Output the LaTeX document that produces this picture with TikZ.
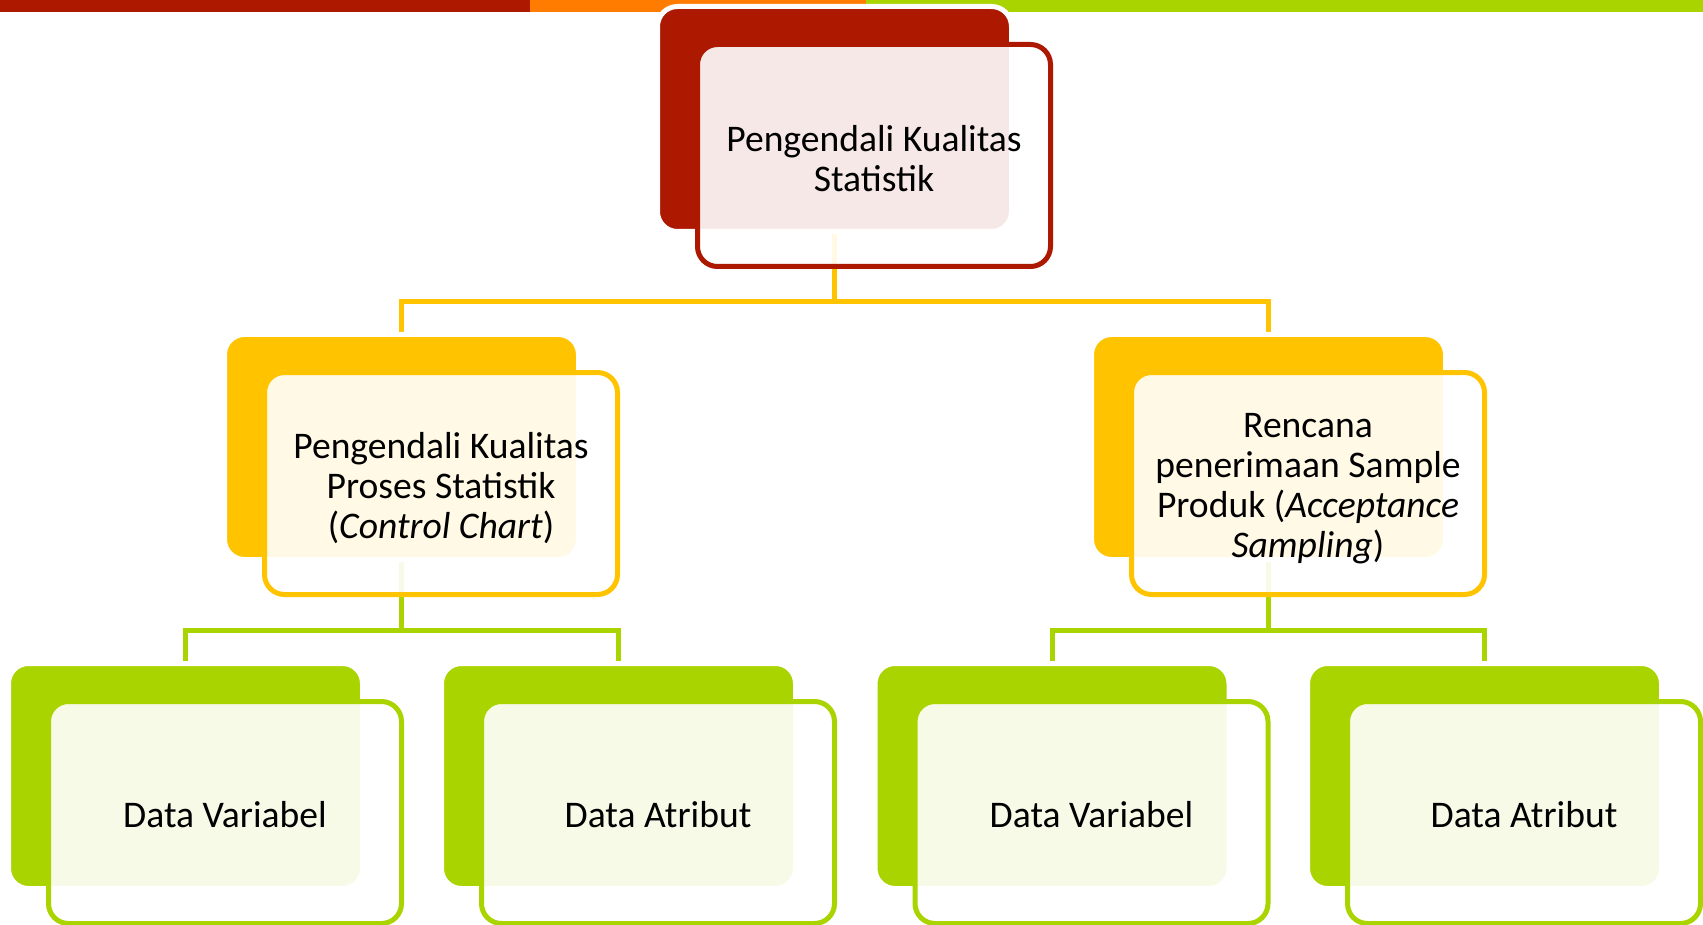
\documentclass[tikz,border=0pt]{standalone}
\usepackage{fontspec}
\setmainfont{Carlito}
\pgfdeclarelayer{bg}
\pgfsetlayers{bg,main}
\definecolor{darkred}{HTML}{AC1800}
\definecolor{barorange}{HTML}{FF7C00}
\definecolor{leafgreen}{HTML}{AAD400}
\definecolor{gold}{HTML}{FFC300}
\tikzset{
  backbox/.style={rectangle, rounded corners=10pt, minimum width=177pt,
    minimum height=112.5pt, draw=white, line width=2.5pt, fill=#1, inner sep=0pt},
  frontbox/.style={rectangle, rounded corners=10pt, minimum width=176.5pt,
    minimum height=111pt, draw=#1, line width=2.5pt, fill=white,
    fill opacity=0.9, inner sep=0pt},
  boxtext/.style={font=\fontsize{18.8pt}{20pt}\selectfont, align=center,
    text=black, inner sep=0pt, yshift=#1},
  boxtext/.default=-2.5pt,
  link/.style={line width=2.5pt, draw=#1},
  fshift/.style={shift={(39.5,36.5)}}
}
\begin{document}
\begin{tikzpicture}[x=0.5pt,y=-0.5pt]
\useasboundingbox (0,0) rectangle (1703,925);

% back panels
\node[backbox=darkred]   (topb) at (834.5,119) {};
\node[backbox=gold]      (mlb)  at (401.5,447) {};
\node[backbox=gold]      (mrb)  at (1268.5,447) {};
\node[backbox=leafgreen] (b1b)  at (185.5,776) {};
\node[backbox=leafgreen] (b2b)  at (618.5,776) {};
\node[backbox=leafgreen] (b3b)  at (1052,776) {};
\node[backbox=leafgreen] (b4b)  at (1484.5,776) {};

% translucent front panels
\node[frontbox=darkred]   (topf) at ([fshift]topb.center) {};
\node[frontbox=gold]      (mlf)  at ([fshift]mlb.center) {};
\node[frontbox=gold]      (mrf)  at ([fshift]mrb.center) {};
\node[frontbox=leafgreen] (b1f)  at ([fshift]b1b.center) {};
\node[frontbox=leafgreen] (b2f)  at ([fshift]b2b.center) {};
\node[frontbox=leafgreen] (b3f)  at ([fshift]b3b.center) {};
\node[frontbox=leafgreen] (b4f)  at ([fshift]b4b.center) {};

% labels
\node[boxtext=-1.5pt] (topt) at (topf.center) {Pengendali Kualitas\\Statistik};
\node[boxtext] (mlt)  at (mlf.center) {Pengendali Kualitas\\Proses Statistik\\(\textit{Control Chart})};
\node[boxtext] (mrt)  at (mrf.center) {Rencana\\penerimaan Sample\\Produk (\textit{Acceptance}\\\textit{Sampling})};
\node[boxtext=-1pt] (b1t)  at (b1f.center) {Data Variabel};
\node[boxtext=-1pt] (b2t)  at (b2f.center) {Data Atribut};
\node[boxtext=-1pt] (b3t)  at (b3f.center) {Data Variabel};
\node[boxtext=-1pt] (b4t)  at (b4f.center) {Data Atribut};

\begin{pgfonlayer}{bg}
  % coloured strip along the top edge
  \fill[darkred]   (0,0)   rectangle (530,12);
  \fill[barorange] (530,0) rectangle (866,12);
  \fill[leafgreen] (866,0) rectangle (1703,12);
  % tree connectors
  \draw[link=gold] (topb.south) -- ++(0,68) -| (mlb.north);
  \draw[link=gold] (topb.south) -- ++(0,68) -| (mrb.north);
  \draw[link=leafgreen] (mlb.south) -- ++(0,68) -| (b1b.north);
  \draw[link=leafgreen] (mlb.south) -- ++(0,68) -| (b2b.north);
  \draw[link=leafgreen] (mrb.south) -- ++(0,68) -| (b3b.north);
  \draw[link=leafgreen] (mrb.south) -- ++(0,68) -| (b4b.north);
\end{pgfonlayer}
\end{tikzpicture}
\end{document}
